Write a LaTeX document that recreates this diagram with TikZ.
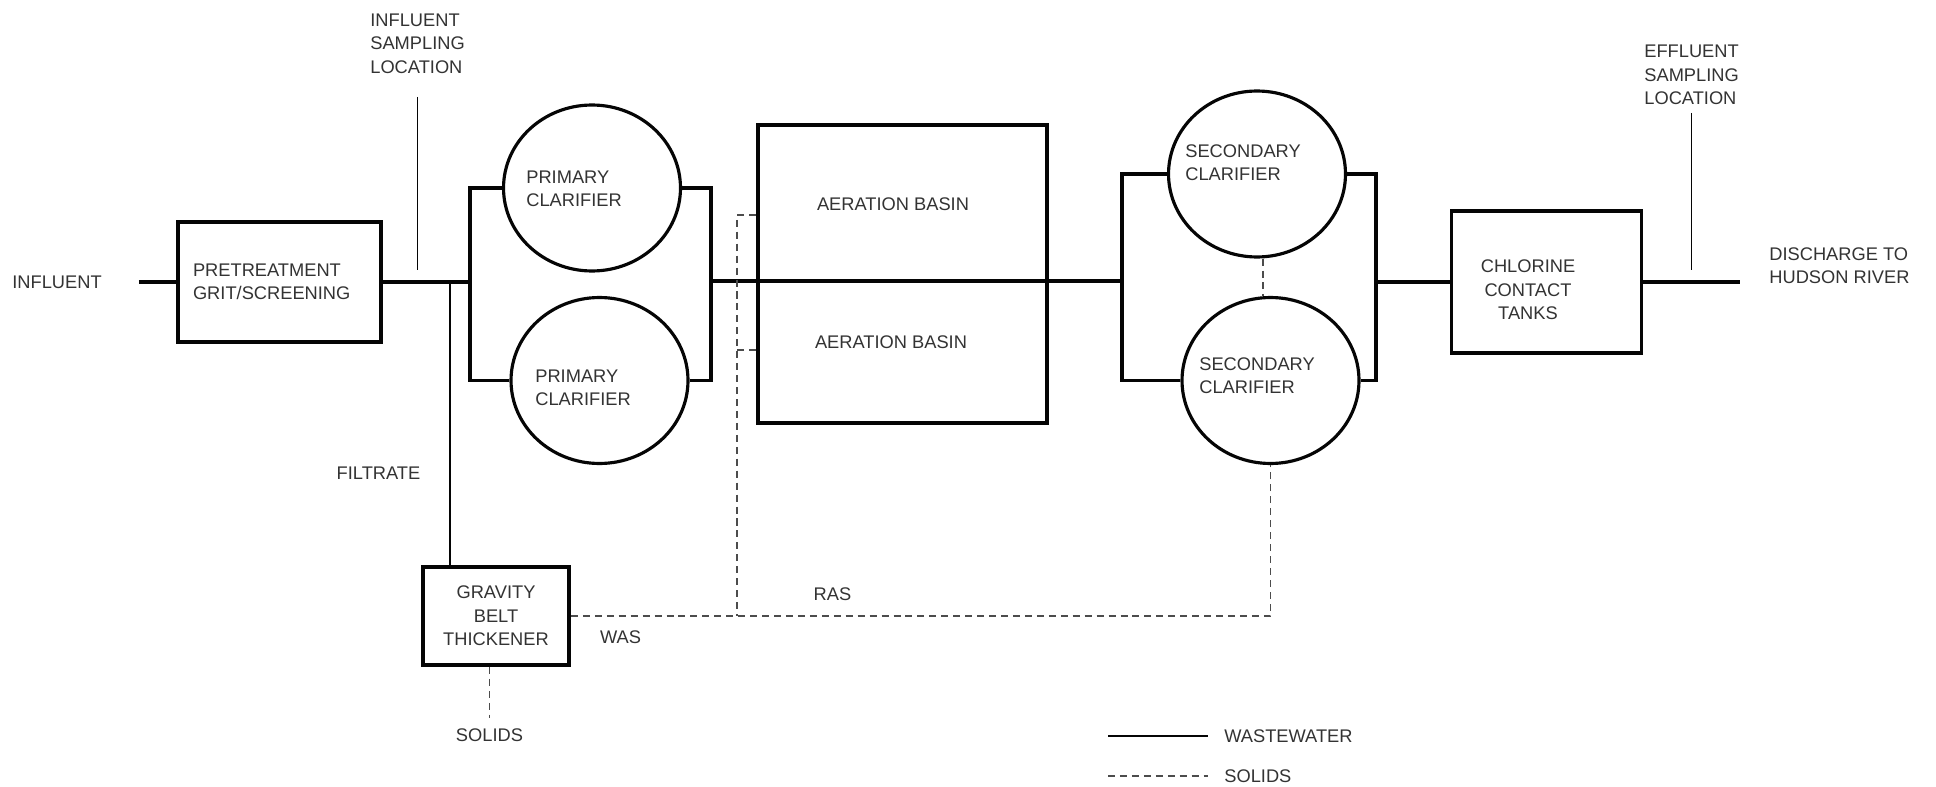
\documentclass[tikz,border=0pt]{standalone}
\usepackage{fontspec}
\setmainfont{Liberation Sans}
\usetikzlibrary{shapes.geometric}
\definecolor{plan-text}{gray}{0.2}
\definecolor{plan-line}{gray}{0.02}
\definecolor{plan-solids}{gray}{0.3}

\begin{document}
\begin{tikzpicture}[x=0.02cm, y=-0.02cm,
    font=\fontsize{10.4}{13.3}\selectfont, text=plan-text,
    every node/.style={inner sep=0pt},
    unit/.style={draw=plan-line, line width=2.2pt, rectangle},
    clarifier/.style={draw=plan-line, line width=1.8pt, ellipse,
      minimum width=3.54cm, minimum height=3.32cm},
    flow/.style={draw=plan-line, line width=2.2pt},
    tap/.style={draw=plan-line, line width=0.8pt},
    solids/.style={draw=plan-solids, line width=0.9pt, dash pattern=on 4pt off 2.8pt}]
  \fill[white] (0,0) rectangle (1936,787);
  \useasboundingbox (0,0) rectangle (1936,787);

  \node (influent) at (57,282) {INFLUENT};
  \node[unit, minimum width=4.06cm, minimum height=2.4cm, text width=3.46cm, align=left] (pre) at (279.5,282) {PRETREATMENT\\GRIT/SCREENING};

  \node[clarifier] (pc1) at (592,188) {};
  \node[anchor=west, align=left] (pc1-text) at (526,188.5) {PRIMARY\\CLARIFIER};
  \node[clarifier] (pc2) at (599.5,380.5) {};
  \node[anchor=west, align=left] (pc2-text) at (535,388) {PRIMARY\\CLARIFIER};

  \node[unit, minimum width=5.78cm, minimum height=3.12cm] (ab1) at (902.5,203) {};
  \node (ab1-text) at (893,204) {AERATION BASIN};
  \node[unit, minimum width=5.78cm, minimum height=2.84cm] (ab2) at (902.5,352) {};
  \node (ab2-text) at (891,342) {AERATION BASIN};

  \node[clarifier] (sc1) at (1257,174) {};
  \node[anchor=west, align=left] (sc1-text) at (1185,163) {SECONDARY\\CLARIFIER};
  \node[clarifier] (sc2) at (1270.5,380.5) {};
  \node[anchor=west, align=left] (sc2-text) at (1199,375.5) {SECONDARY\\CLARIFIER};

  \node[unit, minimum width=3.8cm, minimum height=2.84cm] (cct) at (1546.5,282) {};
  \node[align=center] (cct-text) at (1528,290) {CHLORINE\\CONTACT\\TANKS};

  \node[unit, minimum width=2.92cm, minimum height=1.96cm, align=center] (gbt) at (496,616) {GRAVITY\\BELT\\THICKENER};

  \node[anchor=west, align=left] (in-sample) at (370,43.5) {INFLUENT\\SAMPLING\\LOCATION};
  \node[anchor=west, align=left] (eff-sample) at (1644,75) {EFFLUENT\\SAMPLING\\LOCATION};
  \node[anchor=west, align=left] (discharge) at (1769,266) {DISCHARGE TO\\HUDSON RIVER};
  \node (filtrate) at (378.5,473) {FILTRATE};
  \node (ras) at (832.5,594) {RAS};
  \node (was) at (620.5,637) {WAS};
  \node (solids) at (489.5,735) {SOLIDS};
  \node[anchor=west] (key-ww) at (1224,736) {WASTEWATER};
  \node[anchor=west] (key-sol) at (1224,776) {SOLIDS};

  \coordinate (split1) at (470,282);
  \coordinate (filt) at (450,282);
  \coordinate (join1) at (711,281);
  \coordinate (split2) at (1122,281);
  \coordinate (join2) at (1376,282);
  \coordinate (out-end) at (1740,282);
  \coordinate (ras-tee) at (737,616);

  \draw[flow] ([xshift=21pt]influent.east) -- (pre.west);
  \draw[flow] (pre.east) -- (split1);
  \draw[flow] (pc1.west) -| (split1) |- (pc2.west);
  \draw[flow] (pc1.east) -| (join1) |- (pc2.east);
  \draw[flow] (join1) -- (split2);
  \draw[flow] (sc1.west) -| (split2) |- (sc2.west);
  \draw[flow] (sc1.east) -| (join2) |- (sc2.east);
  \draw[flow] (join2) -- (cct.west);
  \draw[flow] (cct.east) -- (out-end);

  \draw[tap] (in-sample.south |- 0,97) -- (in-sample.south |- 0,270);
  \draw[tap] (eff-sample.south |- 0,113) -- (eff-sample.south |- 0,270);
  \draw[tap] (filt) -- (filt |- gbt.north);

  \draw[solids] (gbt.east) -| (sc2.south);
  \draw[solids] (ab1.west |- 0,215) -| (ras-tee);
  \draw[solids] (ab2.west |- 0,350) -- (ras-tee |- 0,350);
  \draw[solids] (sc1.south -| 1263,0) -- (sc2.north -| 1263,0);
  \draw[solids] (gbt.south -| solids) -- ([yshift=6pt]solids.north);

  \draw[tap] (1108,736) -- ([xshift=-9pt]key-ww.west);
  \draw[solids] (1108,776) -- ([xshift=-9pt]key-sol.west);
\end{tikzpicture}
\end{document}
